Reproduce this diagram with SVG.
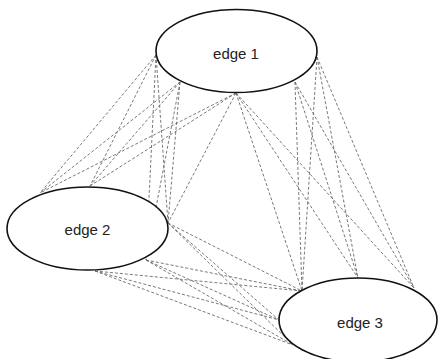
<svg xmlns="http://www.w3.org/2000/svg" width="438" height="359" viewBox="0 0 438 359">
<style>
.c{stroke:#6a6a6a;stroke-width:0.9;stroke-dasharray:3 2;fill:none}
.n{fill:#fff;stroke:#111;stroke-width:1.6}
.t{font-family:"Liberation Sans",Arial,sans-serif;font-size:15px;fill:#222;text-anchor:middle}
</style>
<rect width="438" height="359" fill="#fff"/>
<g id="connectors">
<line class="c" x1="156" y1="55" x2="40" y2="193"/>
<line class="c" x1="156" y1="55" x2="90" y2="186"/>
<line class="c" x1="156" y1="55" x2="168" y2="223"/>
<line class="c" x1="180" y1="82" x2="40" y2="193"/>
<line class="c" x1="180" y1="82" x2="90" y2="186"/>
<line class="c" x1="180" y1="82" x2="168" y2="223"/>
<line class="c" x1="236" y1="93" x2="40" y2="193"/>
<line class="c" x1="236" y1="93" x2="90" y2="186"/>
<line class="c" x1="236" y1="93" x2="168" y2="223"/>
<line class="c" x1="156" y1="55" x2="146" y2="260"/>
<line class="c" x1="180" y1="82" x2="146" y2="260"/>
<line class="c" x1="236" y1="93" x2="302" y2="291"/>
<line class="c" x1="236" y1="93" x2="358" y2="278"/>
<line class="c" x1="236" y1="93" x2="414" y2="288"/>
<line class="c" x1="295" y1="82" x2="302" y2="291"/>
<line class="c" x1="295" y1="82" x2="358" y2="278"/>
<line class="c" x1="295" y1="82" x2="414" y2="288"/>
<line class="c" x1="317" y1="57" x2="302" y2="291"/>
<line class="c" x1="317" y1="57" x2="358" y2="278"/>
<line class="c" x1="317" y1="57" x2="414" y2="288"/>
<line class="c" x1="168" y1="223" x2="279" y2="320"/>
<line class="c" x1="168" y1="223" x2="302" y2="291"/>
<line class="c" x1="168" y1="223" x2="293" y2="345"/>
<line class="c" x1="146" y1="260" x2="279" y2="320"/>
<line class="c" x1="146" y1="260" x2="302" y2="291"/>
<line class="c" x1="146" y1="260" x2="293" y2="345"/>
<line class="c" x1="95" y1="271" x2="279" y2="320"/>
<line class="c" x1="95" y1="271" x2="302" y2="291"/>
<line class="c" x1="95" y1="271" x2="293" y2="345"/>
</g>
<g id="edge1">
<ellipse class="n" cx="236.5" cy="51" rx="80.5" ry="41.5"/>
<text class="t" x="236" y="59">edge 1</text>
</g>
<g id="edge2">
<ellipse class="n" cx="87.5" cy="228.5" rx="80.5" ry="41.5"/>
<text class="t" x="87.5" y="235">edge 2</text>
</g>
<g id="edge3">
<ellipse class="n" cx="358" cy="320" rx="79" ry="42"/>
<text class="t" x="360" y="328">edge 3</text>
</g>
</svg>
